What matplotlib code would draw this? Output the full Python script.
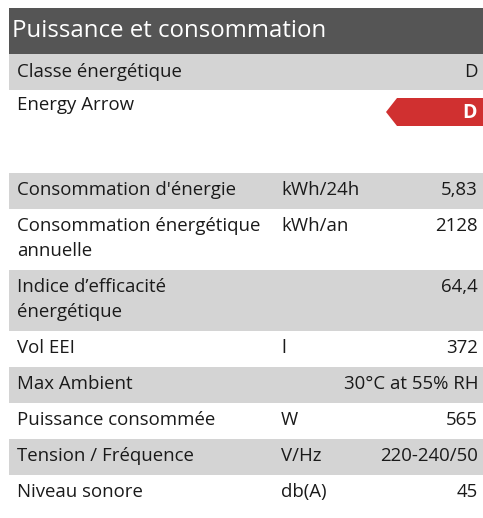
import matplotlib
matplotlib.use("Agg")
import matplotlib.pyplot as plt
from matplotlib.patches import Rectangle, Polygon

plt.rcParams['font.family'] = ['Open Sans', 'DejaVu Sans']

title = "Puissance et consommation"
energy_class = "D"
arrow_label = "Energy Arrow"

labels = ["Consommation d'énergie", "Consommation énergétique\nannuelle",
          "Indice d’efficacité\nénergétique", "Vol EEI", "Max Ambient",
          "Puissance consommée", "Tension / Fréquence", "Niveau sonore"]
units = ["kWh/24h", "kWh/an", "", "l", "", "W", "V/Hz", "db(A)"]
values = ["5,83", "2128", "64,4", "372", "30°C at 55% RH", "565", "220-240/50", "45"]

W, H = 483, 518
fig = plt.figure(figsize=(W / 100, H / 100), dpi=100)
ax = fig.add_axes([0, 0, 1, 1])
ax.set_xlim(0, W)
ax.set_ylim(H, 0)
ax.axis('off')

GREY = '#d4d4d4'
DARK = '#555555'
RED = '#d03030'
TXT = '#1a1a1a'
FS = 13.4
x0, x1 = 9, W
xl, xu, xv = 17, 281, 478

# header
ax.add_patch(Rectangle((x0, 8), x1 - x0, 46, color=DARK, lw=0))
ax.text(12, 31, title, color='white', fontsize=17.3, va='center', ha='left')

# classe
ax.add_patch(Rectangle((x0, 54), x1 - x0, 36, color=GREY, lw=0))
ax.text(xl, 72, "Classe énergétique", fontsize=FS, va='center', ha='left', color=TXT)
ax.text(xv, 72, energy_class, fontsize=FS, va='center', ha='right', color=TXT)

# arrow row
ax.text(xl, 105, arrow_label, fontsize=FS, va='center', ha='left', color=TXT)
ax.add_patch(Polygon([(386, 112), (397, 98), (W, 98), (W, 126), (397, 126)],
                     closed=True, color=RED, lw=0))
ax.text(470, 113, energy_class, fontsize=14, fontweight='bold', color='white',
        va='center', ha='center')

# table rows
y = 173
for i, (lab, un, val) in enumerate(zip(labels, units, values)):
    nlines = lab.count("\n") + 1
    h = 36 + 25 * (nlines - 1)
    if i % 2 == 0:
        ax.add_patch(Rectangle((x0, y), x1 - x0, h, color=GREY, lw=0))
    for k, line in enumerate(lab.split("\n")):
        ax.text(xl, y + 17 + 25 * k, line, fontsize=FS, va='center', ha='left', color=TXT)
    if un:
        ax.text(xu, y + 17, un, fontsize=FS, va='center', ha='left', color=TXT)
    ax.text(xv, y + 17, val, fontsize=FS, va='center', ha='right', color=TXT)
    y += h

fig.savefig("out.png", dpi=100)
